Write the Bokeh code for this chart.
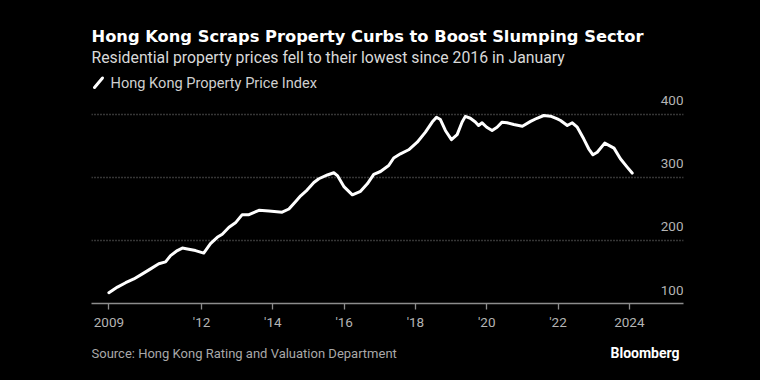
from bokeh.plotting import figure
from bokeh.layouts import column
from bokeh.models import (FixedTicker, Grid, Label, Arrow, ColumnDataSource, Range1d)
from bokeh.core.properties import value
from bokeh.embed import file_html
from bokeh.resources import INLINE

# ---- data ----
years = [2009.40, 2009.64, 2009.87, 2010.10, 2010.34, 2010.57, 2010.80, 2010.99,
         2011.13, 2011.32, 2011.46, 2011.64, 2011.83, 2012.06, 2012.25, 2012.44,
         2012.58, 2012.77, 2012.95, 2013.14, 2013.33, 2013.61, 2013.89, 2014.26,
         2014.45, 2014.64, 2014.78, 2014.96, 2015.15, 2015.29, 2015.53, 2015.71,
         2015.81, 2016.00, 2016.23, 2016.46, 2016.65, 2016.83, 2017.02, 2017.25,
         2017.39, 2017.58, 2017.81, 2018.05, 2018.28, 2018.47, 2018.59, 2018.70,
         2018.84, 2019.01, 2019.17, 2019.31, 2019.40, 2019.54, 2019.68, 2019.77,
         2019.87, 2020.00, 2020.15, 2020.29, 2020.43, 2020.57, 2020.76, 2021.00,
         2021.23, 2021.41, 2021.60, 2021.79, 2021.98, 2022.07, 2022.26, 2022.40,
         2022.54, 2022.72, 2022.86, 2022.98, 2023.10, 2023.31, 2023.57, 2023.75,
         2023.94, 2024.08]
index_values = [117, 126, 133, 139, 147, 155, 163, 166,
                176, 184, 188, 186, 184, 180, 195, 205,
                210, 221, 228, 241, 241, 248, 247, 245,
                250, 262, 271, 280, 292, 298, 304, 307.5,
                303, 285, 272.5, 278, 290, 305, 309.5, 319,
                331, 337.6, 344, 356, 372, 388, 395.7, 392,
                374.6, 360, 368, 388, 397, 394, 388, 382.5,
                386.8, 379.8, 374.6, 379.8, 387.8, 386.8, 384, 381.4,
                389, 394, 398.4, 397.3, 393, 390.5, 382.5, 386.8,
                379.8, 361.4, 345.6, 336, 340, 354.5, 346.6, 329.7,
                316.4, 307]

x_ticks = [2012, 2014, 2016, 2018, 2020, 2022, 2024]
x_tick_labels = ["'12", "'14", "'16", "'18", "'20", "'22", "2024"]
first_tick_label = "2009"
y_ticks = [100, 200, 300, 400]
y_tick_labels = ["100", "200", "300", "400"]

title_text = "Hong Kong Scraps Property Curbs to Boost Slumping Sector"
subtitle_text = "Residential property prices fell to their lowest since 2016 in January"
legend_text = "Hong Kong Property Price Index"
source_text = "Source: Hong Kong Rating and Valuation Department"
brand_text = "Bloomberg"

FONT = "Roboto"
TITLE_FONT = "DejaVu Sans"
BG = "#000000"
W = 760
LEFT, RIGHT = 91, 77   # frame borders shared by all three stacked figures


def blank(height):
    f = figure(width=W, height=height, output_backend="svg", toolbar_location=None,
               x_range=Range1d(0, W - LEFT - RIGHT), y_range=Range1d(0, height),
               x_axis_location=None, y_axis_location=None, min_border=0,
               min_border_left=LEFT, min_border_right=RIGHT)
    f.background_fill_color = BG
    f.border_fill_color = BG
    f.outline_line_color = None
    f.grid.visible = False
    return f


def add_label(f, txt, sx, sy, size, color, bold=False, align="left", font=FONT):
    f.add_layout(Label(x=sx, y=sy, x_units="screen", y_units="screen", text=txt,
                       text_font=font, text_font_size=size, text_color=color,
                       text_font_style="bold" if bold else "normal",
                       text_align=align, text_baseline="middle"))


# ---- header ----
HH = 92
head = blank(HH)
add_label(head, title_text, 91 - LEFT, HH - 36, "16.3px", "#ffffff", bold=True,
          font=TITLE_FONT)
add_label(head, subtitle_text, 91 - LEFT, HH - 56.5, "15.8px", "#d9d9d9")
add_label(head, legend_text, 110 - LEFT, HH - 82.5, "14.6px", "#cfcfcf")
head.add_layout(Arrow(end=None, x_start=94 - LEFT, y_start=HH - 87,
                      x_end=102 - LEFT, y_end=HH - 77.5,
                      start_units="screen", end_units="screen",
                      line_color="white", line_width=3, line_cap="round"))

# ---- main chart ----
MH = 248
x_start, x_end = 2008.912, 2025.52
y_start, y_end = 100, 434.9

p = figure(width=W, height=MH, output_backend="svg", toolbar_location=None,
           x_range=Range1d(x_start, x_end), y_range=Range1d(y_start, y_end),
           y_axis_location=None, min_border_left=LEFT, min_border_right=RIGHT,
           min_border_top=0, min_border_bottom=37)
p.background_fill_color = BG
p.border_fill_color = BG
p.outline_line_color = None
p.grid.visible = False

grid = Grid(dimension=1, ticker=FixedTicker(ticks=y_ticks[1:]),
            grid_line_color="#6a6a6a", grid_line_width=1.3, grid_line_dash="1 2")
p.add_layout(grid)

ax = p.xaxis[0]
ax.ticker = FixedTicker(ticks=[years[0]] + x_ticks)
overrides = {years[0]: first_tick_label}
overrides.update({t: l for t, l in zip(x_ticks, x_tick_labels)})
ax.major_label_overrides = overrides
ax.axis_line_color = "#8c8c8c"
ax.axis_line_width = 1.3
ax.major_tick_line_color = "#8c8c8c"
ax.major_tick_line_width = 1.3
ax.major_tick_out = 6
ax.major_tick_in = 0
ax.minor_tick_line_color = None
ax.major_label_text_color = "#b4b4b4"
ax.major_label_text_font = FONT
ax.major_label_text_font_size = "13.5px"
ax.major_label_standoff = 4

src = ColumnDataSource(dict(x=years, y=index_values))
p.line("x", "y", source=src, line_color="white", line_width=3, line_join="round",
       line_cap="round")

ysrc = ColumnDataSource(dict(x=[x_end] * len(y_ticks), y=y_ticks, t=y_tick_labels))
p.text("x", "y", text="t", source=ysrc, text_align="right", text_baseline="bottom",
       y_offset=-9, text_color="#b4b4b4", text_font=value(FONT),
       text_font_size="13.5px")

# ---- footer ----
FH = 380 - HH - MH
foot = blank(FH)
add_label(foot, source_text, 91 - LEFT, FH - 13, "13px", "#a8a8a8")
add_label(foot, brand_text, 679 - LEFT, FH - 12.5, "14px", "#ffffff", bold=True,
          align="right")

layout = column(head, p, foot, spacing=0)
layout.background = BG

open("out.html", "w").write(file_html(layout, INLINE))
